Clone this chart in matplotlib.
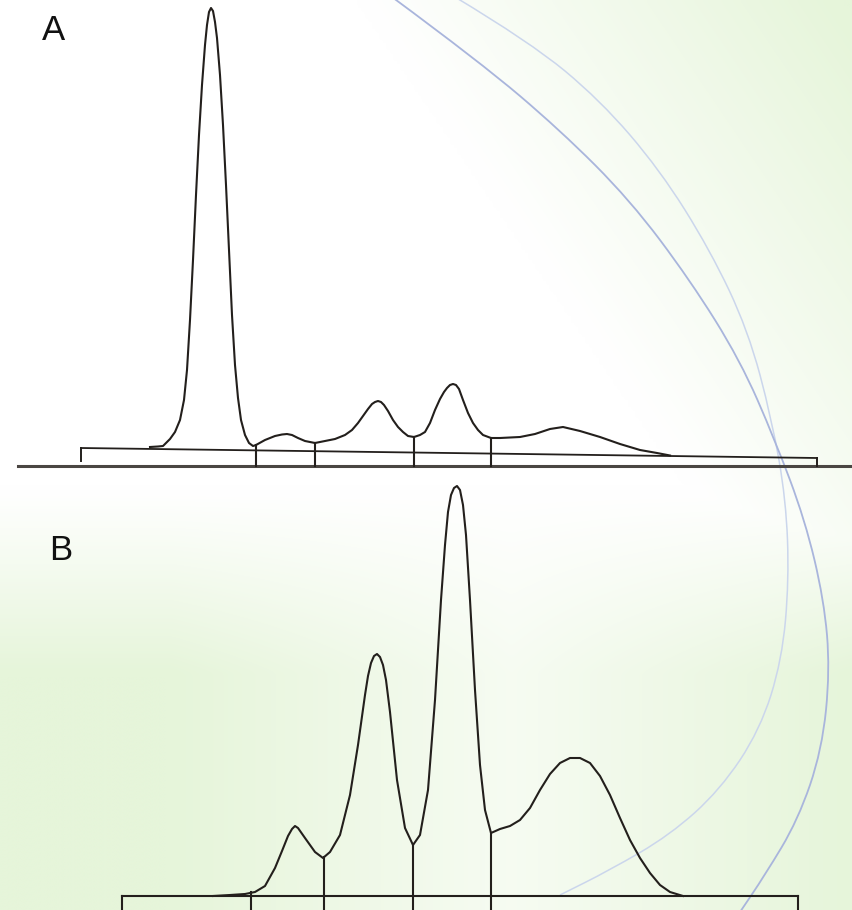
import numpy as np
import matplotlib.pyplot as plt
from matplotlib.path import Path
from matplotlib.patches import PathPatch

# densitometry traces (position, height above the panel baseline)
a_pos = [150, 158, 163, 166, 170, 175, 180, 184, 187, 190, 193, 196, 199, 202, 205, 207,
         209, 211, 213, 215, 217, 220, 223, 226, 229, 232, 235, 238, 241, 245, 249, 253,
         256, 265, 275, 282, 287, 292, 298, 305, 315, 325, 335, 345, 352, 358, 363, 368,
         372, 375, 378, 381, 384, 388, 393, 398, 403, 408, 414, 420, 425, 430, 435, 440,
         444, 447, 450, 453, 456, 459, 463, 468, 473, 478, 483, 491, 500, 520, 535, 550,
         563, 580, 600, 620, 640, 657, 670]
a_img = [447, 446.5, 446, 443, 439, 432, 420, 400, 370, 320, 260, 195, 135, 85, 45, 25,
         12, 8, 11, 22, 38, 75, 125, 185, 250, 315, 365, 398, 420, 435, 443, 446,
         445, 440, 436, 434.5, 434, 435, 438, 441, 443, 441, 439, 435, 430, 423, 416, 409,
         404, 402, 401, 402, 405, 411, 420, 427, 432, 436, 437, 435, 432, 423, 410, 399,
         392, 388, 385, 384, 385, 389, 400, 413, 423, 430, 435, 438, 438, 437, 434, 429,
         427, 431, 437, 444, 450, 453, 455.5]
a_base = 466
a_height = [a_base - v for v in a_img]
a_splits = [256, 315, 414, 491]
a_bracket = [81, 817]

b_pos = [213, 230, 245, 255, 265, 275, 282, 288, 292, 295, 298, 305, 315, 323, 330, 340,
         350, 358, 365, 368, 371, 374, 377, 380, 383, 386, 390, 397, 405, 413, 420, 428,
         435, 441, 445, 448, 451, 454, 457, 460, 463, 466, 470, 475, 480, 485, 491, 500,
         510, 520, 530, 540, 550, 560, 570, 580, 590, 600, 610, 620, 630, 640, 650, 660,
         670, 683]
b_img = [896, 895, 894, 892, 886, 868, 851, 836, 829, 826, 828, 838, 852, 858, 852, 835,
         795, 745, 695, 676, 663, 656, 654, 657, 665, 680, 712, 780, 828, 845, 835, 790,
         700, 600, 545, 512, 495, 488, 486, 490, 505, 535, 600, 690, 765, 810, 833, 829,
         826, 820, 808, 790, 774, 763, 758, 758, 763, 776, 795, 818, 840, 858, 873, 885,
         892, 896]
b_base = 896
b_height = [b_base - v for v in b_img]
b_splits = [251, 324, 413, 491]
b_bracket = [122, 798]

# background swoosh guides
swoosh_dark = [(392, -3), (480, 62), (560, 130), (630, 200), (690, 280), (740, 360),
               (775, 440), (805, 520), (824, 600), (830, 670), (822, 750), (798, 820),
               (765, 875), (738, 915)]
swoosh_light = [(455, -3), (530, 42), (600, 100), (660, 170), (710, 250), (748, 330),
                (772, 420), (786, 500), (789, 580), (782, 660), (760, 730), (720, 790),
                (670, 835), (610, 870), (560, 895)]

W, H = 853, 910
ink = '#231f1c'


def smooth_path(pts):
    verts = [pts[0]]
    codes = [Path.MOVETO]
    for i in range(1, len(pts) - 1):
        mid = ((pts[i][0] + pts[i + 1][0]) / 2, (pts[i][1] + pts[i + 1][1]) / 2)
        verts += [pts[i], mid]
        codes += [Path.CURVE3, Path.CURVE3]
    verts.append(pts[-1])
    codes.append(Path.LINETO)
    return Path(verts, codes)


fig = plt.figure(figsize=(W / 100, H / 100), dpi=100)
ax = fig.add_axes([0, 0, 1, 1])
ax.set_xlim(0, W)
ax.set_ylim(H, 0)
ax.axis('off')

# pale green backdrop
u, v = np.meshgrid(np.linspace(0, 1, 240), np.linspace(0, 1, 260))
top_right = np.clip(1.8 * (u - 0.62) - 1.3 * v + 0.35, 0, 1)
lower = np.clip((v - 0.54) * 5, 0, 1) * (0.35 + 0.65 * np.clip(np.abs(u - 0.6) * 2.5, 0, 1))
green = np.clip(np.maximum(top_right, lower), 0, 1)
white = np.array([1.0, 1.0, 1.0])
tint = np.array([230, 245, 218]) / 255
bg = white + green[..., None] * (tint - white)
ax.imshow(bg, extent=(0, W, H, 0), aspect='auto', zorder=0, interpolation='bicubic')

ax.add_patch(PathPatch(smooth_path(swoosh_light), fill=False, edgecolor='#cbd6ec', lw=1.1, zorder=1))
ax.add_patch(PathPatch(smooth_path(swoosh_dark), fill=False, edgecolor='#a9b5dc', lw=1.3, zorder=1))

# panel A
ax.plot([18, W], [a_base, a_base], color='#4a4642', lw=2.2, zorder=3)
ax.plot(a_bracket, [448, 458], color=ink, lw=1.3, zorder=3)
ax.plot([a_bracket[0], a_bracket[0]], [448, 461], color=ink, lw=1.4, zorder=3)
ax.plot([a_bracket[1], a_bracket[1]], [458, a_base], color=ink, lw=1.4, zorder=3)
ax.plot(a_pos, [a_base - h for h in a_height], color=ink, lw=1.5, zorder=4,
        solid_joinstyle='round')
for s in a_splits:
    top = a_base - np.interp(s, a_pos, a_height)
    ax.plot([s, s], [top, a_base], color=ink, lw=1.5, zorder=3)
ax.text(42, 31, 'A', fontsize=25, fontfamily='Liberation Sans', va='center', ha='left', color='#111111')

# panel B
ax.plot(b_bracket, [b_base, b_base], color=ink, lw=1.5, zorder=3)
for s in b_bracket:
    ax.plot([s, s], [b_base, H], color=ink, lw=1.5, zorder=3)
ax.plot([b_splits[0], b_splits[0]], [b_base - 4, H], color=ink, lw=1.5, zorder=3)
for s in b_splits[1:]:
    top = b_base - np.interp(s, b_pos, b_height)
    ax.plot([s, s], [top, H], color=ink, lw=1.5, zorder=3)
ax.plot(b_pos, [b_base - h for h in b_height], color=ink, lw=1.5, zorder=4,
        solid_joinstyle='round')
ax.text(49, 550, 'B', fontsize=25, fontfamily='Liberation Sans', va='center', ha='left', color='#111111')

fig.savefig('out.png', dpi=100)
